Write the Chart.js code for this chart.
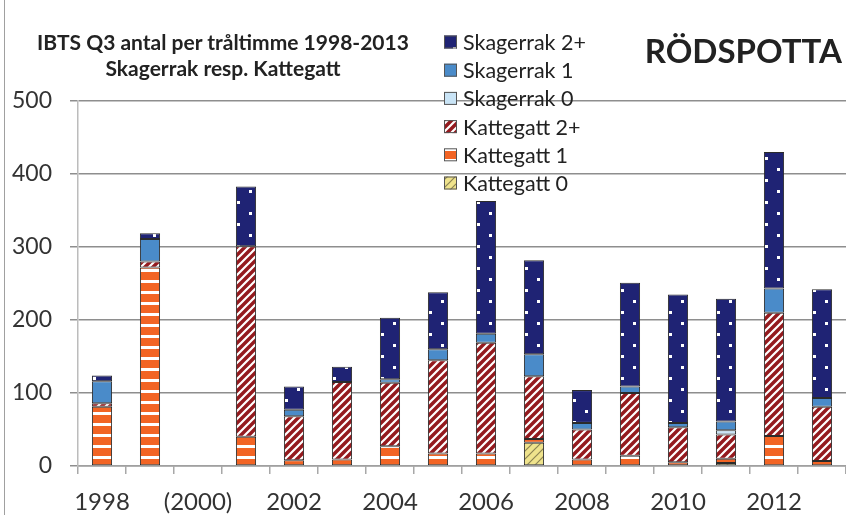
<!DOCTYPE html>
<html>
<head>
<meta charset="utf-8">
<script src="https://cdn.jsdelivr.net/npm/chart.js@4.4.1/dist/chart.umd.min.js"></script>
<style>
  body { margin: 0; background: #fff; }
  #wrap { position: relative; width: 846px; height: 515px; overflow: hidden; }
  #frame { position: absolute; left: 4px; top: 0; width: 1px; height: 515px; background: #a0a0a0; }
  .head { position: absolute; font-family: Lato, sans-serif; font-weight: bold; color: #222; white-space: nowrap; }
  #title { left: 13px; top: 29px; width: 420px; font-size: 21px; line-height: 26px; text-align: center; }
  #fish { left: 600px; top: 34px; width: 242px; font-size: 33px; line-height: 33px; text-align: right; }
</style>
</head>
<body>
<div id="wrap">
  <canvas id="chart" width="846" height="515"></canvas>
  <div id="frame"></div>
  <div class="head" id="title">IBTS Q3 antal per tråltimme 1998-2013<br>Skagerrak resp. Kattegatt</div>
  <div class="head" id="fish">RÖDSPOTTA</div>
</div>
<script>
// year labels, only every other one is shown on the axis
const years = ['1998', '1999', '(2000)', '2001', '2002', '2003', '2004', '2005',
               '2006', '2007', '2008', '2009', '2010', '2011', '2012', '2013']
const yTicks = [0, 100, 200, 300, 400, 500]

// antal per tråltimme, no survey in 2000
const kattegatt0 = [0, 0, null, 0, 0, 0, 0, 0, 0, 32, 0, 0, 0, 4, 0, 0]
const kattegatt1 = [81, 272, null, 40, 8, 9, 27, 17, 17, 5, 9, 14, 5, 6, 41, 7]
const kattegatt2 = [5, 8, null, 261, 60, 106, 87, 128, 152, 86, 41, 86, 48, 33, 169, 74]
const skagerrak0 = [0, 0, null, 0, 0, 0, 0, 0, 0, 0, 0, 0, 0, 6, 0, 0]
const skagerrak1 = [30, 31, null, 0, 9, 0, 5, 15, 12, 30, 9, 9, 6, 12, 33, 12]
const skagerrak2 = [8, 8, null, 82, 32, 21, 84, 78, 182, 129, 45, 142, 176, 168, 187, 149]

function makePattern(w, h, paint) {
  let c = document.createElement('canvas')
  c.width = w
  c.height = h
  let g = c.getContext('2d')
  paint(g, w, h)
  return g.createPattern(c, 'repeat')
}

let ctx = document.getElementById('chart').getContext('2d')

let dots = makePattern(24, 22, function(g, w, h) {
  g.fillStyle = '#1f2374'
  g.fillRect(0, 0, w, h)
  g.fillStyle = '#ffffff'
  g.fillRect(21, 3, 3, 3)
  g.fillRect(9, 14, 3, 3)
})
let diagRed = makePattern(8, 8, function(g, w, h) {
  g.fillStyle = '#941a1e'
  g.fillRect(0, 0, w, h)
  g.strokeStyle = '#ffffff'
  g.lineWidth = 2.2
  g.beginPath()
  g.moveTo(-1, 9); g.lineTo(9, -1)
  g.moveTo(-1, 1); g.lineTo(1, -1)
  g.moveTo(7, 9); g.lineTo(9, 7)
  g.stroke()
})
// white band placed so the bar foot stays orange
let stripesOrange = makePattern(4, 11, function(g, w, h) {
  g.fillStyle = '#f26424'
  g.fillRect(0, 0, w, h)
  g.fillStyle = '#ffffff'
  g.fillRect(0, 5, w, 3)
})
let diagYellow = makePattern(8, 8, function(g, w, h) {
  g.fillStyle = '#efe38c'
  g.fillRect(0, 0, w, h)
  g.strokeStyle = '#8c8452'
  g.lineWidth = 1.2
  g.beginPath()
  g.moveTo(-1, 9); g.lineTo(9, -1)
  g.moveTo(-1, 1); g.lineTo(1, -1)
  g.moveTo(7, 9); g.lineTo(9, 7)
  g.stroke()
})

// legend drawn inside the plot, on top of the grid lines
const legendBoxes = {
  id: 'legendBoxes',
  afterDraw(chart) {
    let c = chart.ctx
    let sets = chart.data.datasets.slice().reverse()
    c.save()
    c.font = '21.5px Lato'
    c.textBaseline = 'middle'
    sets.forEach(function(ds, i) {
      let y = 42 + i * 28.2
      c.fillStyle = ds.backgroundColor
      c.fillRect(444, y - 6.5, 13, 13)
      c.strokeStyle = '#555'
      c.lineWidth = 1
      c.strokeRect(444.5, y - 6, 12, 12)
      c.fillStyle = '#222'
      c.fillText(ds.label, 463, y + 1)
    })
    c.restore()
  }
}

function series(label, data, fill) {
  return {
    label: label,
    data: data,
    backgroundColor: fill,
    borderColor: '#2b2b2b',
    // no outline for empty segments
    borderWidth: function(c) { return c.raw ? 1 : 0 },
    borderSkipped: false,
    barPercentage: 0.42,
    categoryPercentage: 1
  }
}

Chart.defaults.font.family = 'Lato'
Chart.defaults.color = '#333'

let chart = new Chart(ctx, {
  type: 'bar',
  data: {
    labels: years,
    datasets: [
      series('Kattegatt 0', kattegatt0, diagYellow),
      series('Kattegatt 1', kattegatt1, stripesOrange),
      series('Kattegatt 2+', kattegatt2, diagRed),
      series('Skagerrak 0', skagerrak0, '#c9e4f6'),
      series('Skagerrak 1', skagerrak1, '#4a8bc9'),
      series('Skagerrak 2+', skagerrak2, dots)
    ]
  },
  options: {
    responsive: false,
    animation: false,
    layout: { padding: { top: 101, right: 0, bottom: 0, left: 0 } },
    plugins: {
      legend: { display: false },
      tooltip: { enabled: false }
    },
    scales: {
      x: {
        stacked: true,
        afterFit: function(scale) { scale.height = 49 },
        grid: { drawOnChartArea: false, drawTicks: true, tickLength: 8, color: '#a8a8a8', lineWidth: 1.5, offset: true },
        border: { color: '#a0a0a0', width: 1.5 },
        ticks: {
          autoSkip: false,
          maxRotation: 0,
          padding: 14,
          font: { size: 24 },
          callback: function(value, index) { return index % 2 === 0 ? years[index] : '' }
        }
      },
      y: {
        stacked: true,
        min: yTicks[0],
        max: yTicks[yTicks.length - 1],
        afterFit: function(scale) { scale.width = 78 },
        afterBuildTicks: function(scale) { scale.ticks = yTicks.map(function(v) { return { value: v } }) },
        grid: { color: '#8e8e8e', lineWidth: 1.5, tickLength: 8, tickColor: '#8e8e8e' },
        border: { color: '#bcbcbc', width: 1.5 },
        ticks: { padding: 18, font: { size: 23 } }
      }
    }
  },
  plugins: [legendBoxes]
})
</script>
</body>
</html>
